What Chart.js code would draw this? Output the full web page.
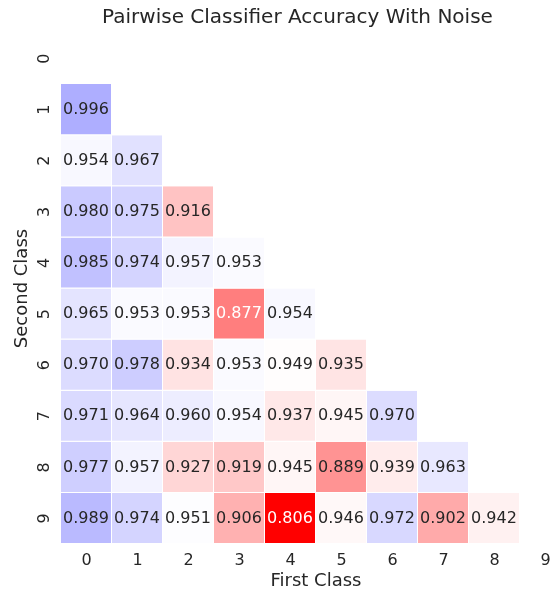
<!DOCTYPE html>
<html>
<head>
<meta charset="utf-8">
<script src="https://cdn.jsdelivr.net/npm/chart.js@4.4.1/dist/chart.umd.min.js"></script>
<style>
  html, body { margin: 0; padding: 0; background: #fff; overflow: hidden; }
  #wrap { width: 557px; height: 590px; overflow: hidden; background: #fff; }
</style>
</head>
<body>
<div id="wrap"><canvas id="heat" width="595" height="590"></canvas></div>
<script>
// classes on both axes
const classes = ['0', '1', '2', '3', '4', '5', '6', '7', '8', '9'];

// accuracy per "second class" row, columns = first class 0..row-1
const acc0 = [];
const acc1 = [0.996];
const acc2 = [0.954, 0.967];
const acc3 = [0.980, 0.975, 0.916];
const acc4 = [0.985, 0.974, 0.957, 0.953];
const acc5 = [0.965, 0.953, 0.953, 0.877, 0.954];
const acc6 = [0.970, 0.978, 0.934, 0.953, 0.949, 0.935];
const acc7 = [0.971, 0.964, 0.960, 0.954, 0.937, 0.945, 0.970];
const acc8 = [0.977, 0.957, 0.927, 0.919, 0.945, 0.889, 0.939, 0.963];
const acc9 = [0.989, 0.974, 0.951, 0.906, 0.806, 0.946, 0.972, 0.902, 0.942];

const accuracyRows = [acc0, acc1, acc2, acc3, acc4, acc5, acc6, acc7, acc8, acc9];

const colorCenter = 0.95;
const textDark = '#262626';
const fontFamily = '"DejaVu Sans", sans-serif';

const allVals = accuracyRows.flat();
const vmin = Math.min(...allVals);
const vmax = Math.max(...allVals);
const vrange = Math.max(vmax - colorCenter, colorCenter - vmin);

// reversed blue-white-red map, white at colorCenter
function cellRgb(v) {
    const t = (v - (colorCenter - vrange)) / (2 * vrange);
    if (t < 0.5) {
        const g = Math.round(255 * (1 - (0.5 - t) * 2));
        return [255, g, g];
    }
    const g = Math.round(255 * (1 - (t - 0.5) * 2));
    return [g, g, 255];
}

function lum(rgb) {
    const lin = c => {
        c = c / 255;
        return c <= 0.03928 ? c / 12.92 : Math.pow((c + 0.055) / 1.055, 2.4);
    };
    return 0.2126 * lin(rgb[0]) + 0.7152 * lin(rgb[1]) + 0.0722 * lin(rgb[2]);
}

const datasets = accuracyRows.map((row, r) => ({
    label: 'Second class ' + classes[r],
    data: classes.map((c, ci) => ci < row.length ? [r - 0.5, r + 0.5] : null),
    backgroundColor: classes.map((c, ci) => {
        if (ci >= row.length) return 'rgba(0,0,0,0)';
        const rgb = cellRgb(row[ci]);
        return 'rgb(' + rgb.join(',') + ')';
    }),
    borderColor: '#ffffff',
    borderWidth: { top: 0, left: 0, right: 1, bottom: 1 },
    borderSkipped: false,
    inflateAmount: 0,
    grouped: false,
    barPercentage: 1,
    categoryPercentage: 1
}));

const cellLabels = {
    id: 'cellLabels',
    afterDatasetsDraw(chart) {
        const ctx = chart.ctx;
        ctx.save();
        ctx.font = '16px ' + fontFamily;
        ctx.textAlign = 'center';
        ctx.textBaseline = 'middle';
        accuracyRows.forEach((row, r) => {
            const meta = chart.getDatasetMeta(r);
            row.forEach((v, c) => {
                const p = meta.data[c].getCenterPoint();
                ctx.fillStyle = lum(cellRgb(v)) < 0.408 ? '#ffffff' : textDark;
                ctx.fillText(v.toFixed(3), p.x - 0.5, p.y);
            });
        });
        ctx.restore();
    }
};

new Chart(document.getElementById('heat'), {
    type: 'bar',
    data: { labels: classes, datasets: datasets },
    plugins: [cellLabels],
    options: {
        responsive: false,
        animation: false,
        devicePixelRatio: 1,
        layout: { padding: { left: 24, right: 24, top: 0, bottom: 0 } },
        plugins: {
            legend: { display: false },
            tooltip: { enabled: false },
            title: {
                display: true,
                text: 'Pairwise Classifier Accuracy With Noise',
                color: textDark,
                font: { family: fontFamily, size: 20, weight: 'normal', lineHeight: 1.2 },
                padding: { top: 6, bottom: 3 }
            }
        },
        scales: {
            x: {
                type: 'category',
                offset: true,
                grid: { display: false, drawTicks: false },
                border: { display: false },
                ticks: {
                    color: textDark,
                    font: { family: fontFamily, size: 16 },
                    padding: 7,
                    maxRotation: 0,
                    autoSkip: false
                },
                title: {
                    display: true,
                    text: 'First Class',
                    color: textDark,
                    font: { family: fontFamily, size: 18, lineHeight: 1 },
                    padding: { top: 0, bottom: 0 }
                },
                afterFit: s => { s.height = 46; }
            },
            y: {
                type: 'linear',
                reverse: true,
                min: -0.5,
                max: 9.5,
                afterBuildTicks: s => { s.ticks = classes.map((c, i) => ({ value: i })); },
                grid: { display: false, drawTicks: false },
                border: { display: false },
                ticks: {
                    callback: v => classes[v],
                    color: textDark,
                    font: { family: fontFamily, size: 16 },
                    minRotation: 90,
                    maxRotation: 90,
                    crossAlign: 'center',
                    padding: 11,
                    autoSkip: false
                },
                title: {
                    display: true,
                    text: 'Second Class',
                    color: textDark,
                    font: { family: fontFamily, size: 18, lineHeight: 1 },
                    padding: { top: -11, bottom: 0 }
                },
                afterFit: s => { s.width = 37; }
            }
        }
    }
});
</script>
</body>
</html>
